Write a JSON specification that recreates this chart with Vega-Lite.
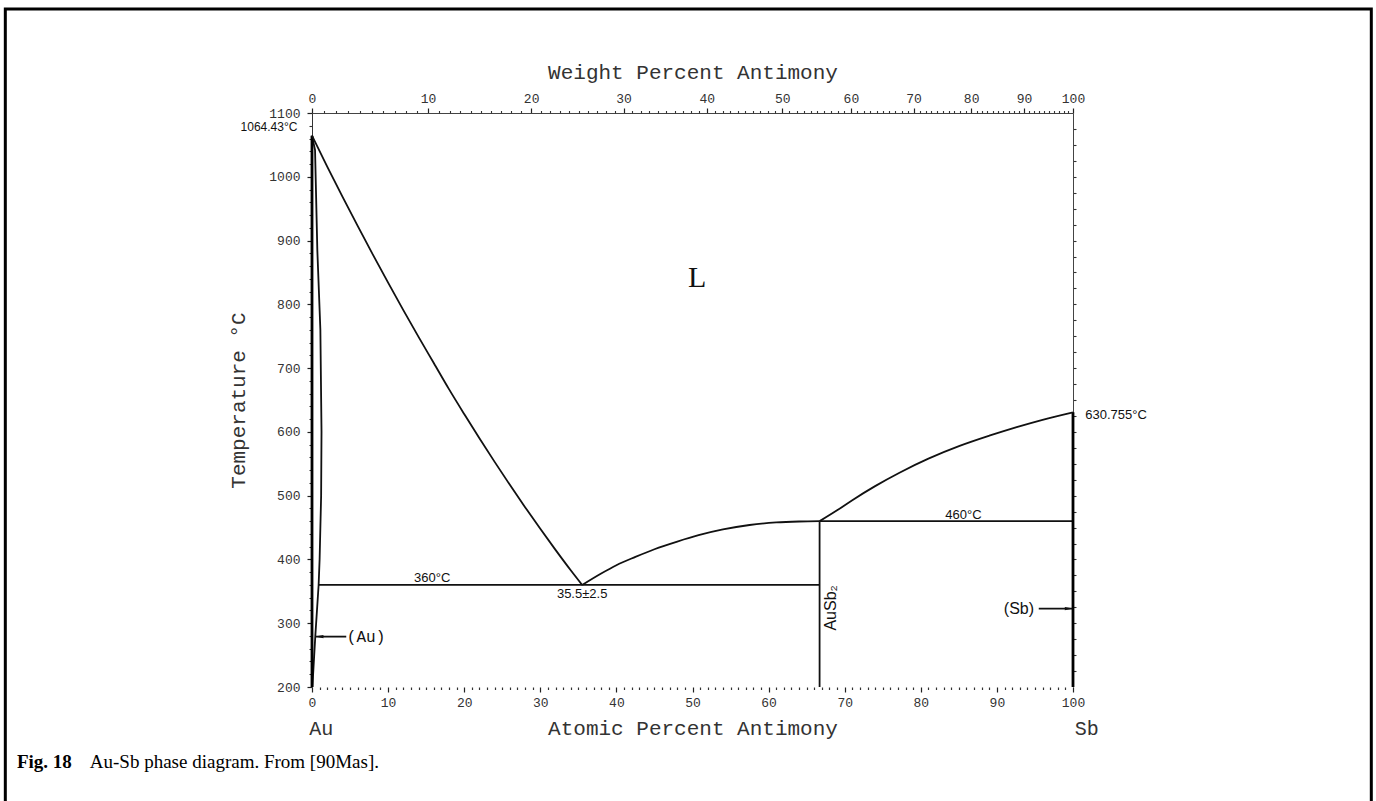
{
  "$schema": "https://vega.github.io/schema/vega-lite/v6.json",
  "width": 761,
  "height": 574,
  "autosize": {"type": "none"},
  "padding": {"left": 312, "top": 113, "right": 303, "bottom": 114},
  "background": "white",
  "config": {"view": {"stroke": null}, "axis": {"grid": false, "labelFlush": false, "labelOverlap": false, "labelBound": false}},
  "datasets": {
    "curves": [
      {"s": "liqAu", "i": 0, "x": 0, "t": 1064.43},
      {"s": "liqAu", "i": 1, "x": 2, "t": 1016},
      {"s": "liqAu", "i": 2, "x": 4, "t": 969},
      {"s": "liqAu", "i": 3, "x": 6, "t": 923},
      {"s": "liqAu", "i": 4, "x": 8, "t": 878},
      {"s": "liqAu", "i": 5, "x": 10, "t": 834},
      {"s": "liqAu", "i": 6, "x": 12, "t": 791},
      {"s": "liqAu", "i": 7, "x": 14, "t": 749},
      {"s": "liqAu", "i": 8, "x": 16, "t": 708},
      {"s": "liqAu", "i": 9, "x": 18, "t": 667},
      {"s": "liqAu", "i": 10, "x": 20, "t": 628},
      {"s": "liqAu", "i": 11, "x": 22, "t": 590},
      {"s": "liqAu", "i": 12, "x": 24, "t": 553},
      {"s": "liqAu", "i": 13, "x": 26, "t": 517},
      {"s": "liqAu", "i": 14, "x": 28, "t": 482},
      {"s": "liqAu", "i": 15, "x": 30, "t": 448},
      {"s": "liqAu", "i": 16, "x": 32, "t": 415},
      {"s": "liqAu", "i": 17, "x": 34, "t": 383},
      {"s": "liqAu", "i": 18, "x": 35.5, "t": 360},
      {"s": "liqMid", "i": 19, "x": 35.5, "t": 360},
      {"s": "liqMid", "i": 20, "x": 38, "t": 378},
      {"s": "liqMid", "i": 21, "x": 40, "t": 391},
      {"s": "liqMid", "i": 22, "x": 42.5, "t": 404},
      {"s": "liqMid", "i": 23, "x": 45, "t": 416},
      {"s": "liqMid", "i": 24, "x": 48, "t": 428},
      {"s": "liqMid", "i": 25, "x": 50.8, "t": 438},
      {"s": "liqMid", "i": 26, "x": 54, "t": 447},
      {"s": "liqMid", "i": 27, "x": 57.5, "t": 454},
      {"s": "liqMid", "i": 28, "x": 61, "t": 458},
      {"s": "liqMid", "i": 29, "x": 64, "t": 459.5},
      {"s": "liqMid", "i": 30, "x": 66.7, "t": 460},
      {"s": "liqSb", "i": 31, "x": 66.7, "t": 460},
      {"s": "liqSb", "i": 32, "x": 69, "t": 477},
      {"s": "liqSb", "i": 33, "x": 71, "t": 493},
      {"s": "liqSb", "i": 34, "x": 74, "t": 515},
      {"s": "liqSb", "i": 35, "x": 77.2, "t": 536},
      {"s": "liqSb", "i": 36, "x": 81, "t": 558},
      {"s": "liqSb", "i": 37, "x": 85.1, "t": 578},
      {"s": "liqSb", "i": 38, "x": 89, "t": 594},
      {"s": "liqSb", "i": 39, "x": 92.6, "t": 607.5},
      {"s": "liqSb", "i": 40, "x": 96, "t": 619},
      {"s": "liqSb", "i": 41, "x": 100, "t": 630.755},
      {"s": "solAu", "i": 42, "x": 0, "t": 1064.43},
      {"s": "solAu", "i": 43, "x": 0.4, "t": 1042},
      {"s": "solAu", "i": 44, "x": 0.7, "t": 885},
      {"s": "solAu", "i": 45, "x": 1.1, "t": 760},
      {"s": "solAu", "i": 46, "x": 1.25, "t": 600},
      {"s": "solAu", "i": 47, "x": 1.2, "t": 500},
      {"s": "solAu", "i": 48, "x": 1.0, "t": 400},
      {"s": "solAu", "i": 49, "x": 0.87, "t": 360},
      {"s": "solvAu", "i": 50, "x": 0.87, "t": 360},
      {"s": "solvAu", "i": 51, "x": 0.43, "t": 279},
      {"s": "solvAu", "i": 52, "x": 0.05, "t": 200},
      {"s": "eut", "i": 53, "x": 0.87, "t": 360},
      {"s": "eut", "i": 54, "x": 66.7, "t": 360},
      {"s": "AuSb2", "i": 55, "x": 66.7, "t": 200},
      {"s": "AuSb2", "i": 56, "x": 66.7, "t": 460},
      {"s": "per", "i": 57, "x": 66.7, "t": 460},
      {"s": "per", "i": 58, "x": 100, "t": 460},
      {"s": "pureAu", "i": 59, "x": 0, "t": 200},
      {"s": "pureAu", "i": 60, "x": 0, "t": 1064.43},
      {"s": "pureSb", "i": 61, "x": 100, "t": 200},
      {"s": "pureSb", "i": 62, "x": 100, "t": 630.755},
      {"s": "arrAu", "i": 63, "x": 0.5, "t": 279},
      {"s": "arrAu", "i": 64, "x": 4.5, "t": 279},
      {"s": "arrSb", "i": 65, "x": 95.5, "t": 323},
      {"s": "arrSb", "i": 66, "x": 100, "t": 323}
    ],
    "notes": [
      {"k": "s12", "label": "1064.43°C", "x": -5.65, "t": 1078},
      {"k": "s13", "label": "630.755°C", "x": 105.65, "t": 627},
      {"k": "s13", "label": "460°C", "x": 85.6, "t": 469},
      {"k": "s13", "label": "360°C", "x": 15.8, "t": 371},
      {"k": "s13", "label": "35.5±2.5", "x": 35.5, "t": 346},
      {"k": "s16", "label": "(Sb)", "x": 92.9, "t": 323},
      {"k": "m16", "label": "(Au)", "x": 7.1, "t": 279},
      {"k": "rot", "label": "AuSb₂", "x": 68.2, "t": 324},
      {"k": "big", "label": "L", "x": 50.6, "t": 841},
      {"k": "m20", "label": "Au", "x": 1.2, "t": 134},
      {"k": "m20", "label": "Sb", "x": 101.8, "t": 134},
      {"k": "capb", "label": "Fig. 18", "x": -38.77, "t": 82.4},
      {"k": "cap", "label": "Au-Sb phase diagram. From [90Mas].", "x": -29.2, "t": 82.4}
    ],
    "heads": [
      {"side": "Au", "x": 0.95, "t": 279},
      {"side": "Sb", "x": 99.47, "t": 323}
    ]
  },
  "resolve": {"axis": {"x": "independent", "y": "independent"}},
  "layer": [
    {
      "data": {"name": "curves"},
      "transform": [{"filter": "indexof(['solAu', 'solvAu', 'eut', 'AuSb2', 'per', 'arrAu', 'arrSb'], datum.s) >= 0"}],
      "mark": {"type": "line", "color": "#111", "strokeWidth": 1.8, "strokeJoin": "round"},
      "encoding": {
        "x": {"field": "x", "type": "quantitative", "scale": {"domain": [0, 100], "nice": false, "zero": false},
          "axis": {"orient": "bottom", "values": [0, 10, 20, 30, 40, 50, 60, 70, 80, 90, 100], "format": "d",
            "tickSize": 5, "tickWidth": 1.2, "tickColor": "#222", "domain": false,
            "labelFont": "Liberation Mono", "labelFontSize": 13, "labelColor": "#333", "labelPadding": 4,
            "title": "Atomic Percent Antimony", "titleFont": "Liberation Mono", "titleFontSize": 21,
            "titleFontWeight": "normal", "titleColor": "#333", "titlePadding": 8}},
        "y": {"field": "t", "type": "quantitative", "scale": {"domain": [200, 1100], "nice": false, "zero": false},
          "axis": {"orient": "left", "values": [200, 300, 400, 500, 600, 700, 800, 900, 1000, 1100], "format": "d",
            "tickSize": 5, "tickWidth": 1.2, "tickColor": "#222", "domain": true, "domainColor": "#333", "domainWidth": 1,
            "labelFont": "Liberation Mono", "labelFontSize": 13, "labelColor": "#333", "labelPadding": 7,
            "title": "Temperature °C", "titleFont": "Liberation Mono", "titleFontSize": 21,
            "titleFontWeight": "normal", "titleColor": "#333", "titlePadding": 20}},
        "detail": {"field": "s"},
        "order": {"field": "i"}
      }
    },
    {
      "data": {"name": "curves"},
      "transform": [{"filter": "datum.s === 'pureAu' || datum.s === 'pureSb'"}],
      "mark": {"type": "line", "color": "#000", "strokeWidth": 2.8},
      "encoding": {
        "x": {"field": "x", "type": "quantitative", "scale": {"domain": [0, 100], "nice": false, "zero": false},
          "axis": {"orient": "bottom", "values": [1,2,3,4,5,6,7,8,9,11,12,13,14,15,16,17,18,19,21,22,23,24,25,26,27,28,29,31,32,33,34,35,36,37,38,39,41,42,43,44,45,46,47,48,49,51,52,53,54,55,56,57,58,59,61,62,63,64,65,66,67,68,69,71,72,73,74,75,76,77,78,79,81,82,83,84,85,86,87,88,89,91,92,93,94,95,96,97,98,99],
            "tickSize": 2.5, "tickWidth": 1.2, "tickColor": "#333", "labels": false, "domain": false, "title": null}},
        "y": {"field": "t", "type": "quantitative", "scale": {"domain": [200, 1100], "nice": false, "zero": false},
          "axis": {"orient": "left", "values": [220,240,260,280,320,340,360,380,420,440,460,480,520,540,560,580,620,640,660,680,720,740,760,780,820,840,860,880,920,940,960,980,1020,1040,1060,1080],
            "tickSize": 3, "tickWidth": 1.1, "tickColor": "#333", "labels": false, "domain": false, "title": null}},
        "detail": {"field": "s"},
        "order": {"field": "i"}
      }
    },
    {
      "data": {"name": "curves"},
      "transform": [{"filter": "datum.s === 'liqAu' || datum.s === 'liqMid' || datum.s === 'liqSb'"}],
      "mark": {"type": "line", "color": "#111", "strokeWidth": 1.8, "interpolate": "monotone"},
      "encoding": {
        "x": {"field": "x", "type": "quantitative", "scale": {"domain": [0, 100], "nice": false, "zero": false}, "axis": null},
        "y": {"field": "t", "type": "quantitative", "scale": {"domain": [200, 1100], "nice": false, "zero": false}, "axis": null},
        "detail": {"field": "s"},
        "order": {"field": "i"}
      }
    },
    {
      "data": {"name": "notes"},
      "transform": [{"filter": "datum.k === 's13'"}],
      "mark": {"type": "text", "font": "Liberation Sans", "fontSize": 13, "color": "#111", "align": "center", "baseline": "middle"},
      "encoding": {
        "x": {"field": "x", "type": "quantitative", "scale": {"domain": [0, 100], "nice": false, "zero": false},
          "axis": {"orient": "top", "values": [0, 15.236, 28.796, 40.944, 51.888, 61.798, 70.816, 79.056, 86.614, 93.573, 100],
            "labelExpr": "'' + indexof([0, 15.236, 28.796, 40.944, 51.888, 61.798, 70.816, 79.056, 86.614, 93.573, 100], datum.value) * 10",
            "tickSize": 5, "tickWidth": 1.2, "tickColor": "#222", "domain": true, "domainColor": "#444", "domainWidth": 1,
            "labelFont": "Liberation Mono", "labelFontSize": 13, "labelColor": "#333", "labelPadding": 3,
            "title": "Weight Percent Antimony", "titleFont": "Liberation Mono", "titleFontSize": 21,
            "titleFontWeight": "normal", "titleColor": "#333", "titlePadding": 10}},
        "y": {"field": "t", "type": "quantitative", "scale": {"domain": [200, 1100], "nice": false, "zero": false},
          "axis": {"orient": "right", "values": [225,250,275,300,325,350,375,400,425,450,475,500,525,550,575,600,625,650,675,700,725,750,775,800,825,850,875,900,925,950,975,1000,1025,1050,1075],
            "tickSize": 3, "tickWidth": 1.1, "tickColor": "#333", "labels": false, "domain": true, "domainColor": "#444", "domainWidth": 1, "title": null}},
        "text": {"field": "label"}
      }
    },
    {
      "data": {"name": "notes"},
      "transform": [{"filter": "datum.k === 's16'"}],
      "mark": {"type": "text", "font": "Liberation Sans", "fontSize": 16, "color": "#111", "align": "center", "baseline": "middle"},
      "encoding": {
        "x": {"field": "x", "type": "quantitative", "scale": {"domain": [0, 100], "nice": false, "zero": false},
          "axis": {"orient": "top", "values": [1.608,3.196,4.765,6.315,7.846,9.359,10.855,12.332,13.793,16.663,18.073,19.467,20.845,22.208,23.555,24.887,26.205,27.508,30.071,31.331,32.579,33.812,35.032,36.240,37.434,38.616,39.786,42.089,43.223,44.345,45.455,46.555,47.643,48.720,49.786,50.842,52.922,53.947,54.962,55.967,56.963,57.949,58.925,59.892,60.850,62.738,63.669,64.592,65.506,66.411,67.308,68.197,69.078,69.951,71.673,72.523,73.365,74.200,75.027,75.847,76.660,77.465,78.264,79.841,80.619,81.391,82.156,82.915,83.667,84.413,85.153,85.887,87.336,88.052,88.762,89.466,90.164,90.857,91.544,92.226,92.902,94.238,94.899,95.554,96.204,96.849,97.489,98.124,98.754,99.380],
            "tickSize": 2.5, "tickWidth": 1.1, "tickColor": "#333", "labels": false, "domain": false, "title": null}},
        "y": {"field": "t", "type": "quantitative", "scale": {"domain": [200, 1100], "nice": false, "zero": false}, "axis": null},
        "text": {"field": "label"}
      }
    },
    {
      "data": {"name": "notes"},
      "transform": [{"filter": "datum.k === 's12'"}],
      "mark": {"type": "text", "font": "Liberation Sans", "fontSize": 12, "color": "#111", "align": "center", "baseline": "middle"},
      "encoding": {
        "x": {"field": "x", "type": "quantitative", "scale": {"domain": [0, 100], "nice": false, "zero": false}, "axis": null},
        "y": {"field": "t", "type": "quantitative", "scale": {"domain": [200, 1100], "nice": false, "zero": false}, "axis": null},
        "text": {"field": "label"}
      }
    },
    {
      "data": {"name": "notes"},
      "transform": [{"filter": "datum.k === 'm16'"}],
      "mark": {"type": "text", "font": "Liberation Mono", "fontSize": 16, "color": "#111", "align": "center", "baseline": "middle"},
      "encoding": {
        "x": {"field": "x", "type": "quantitative", "scale": {"domain": [0, 100], "nice": false, "zero": false}, "axis": null},
        "y": {"field": "t", "type": "quantitative", "scale": {"domain": [200, 1100], "nice": false, "zero": false}, "axis": null},
        "text": {"field": "label"}
      }
    },
    {
      "data": {"name": "notes"},
      "transform": [{"filter": "datum.k === 'rot'"}],
      "mark": {"type": "text", "font": "Liberation Sans, DejaVu Sans", "fontSize": 16, "color": "#111", "align": "center", "baseline": "middle", "angle": 270},
      "encoding": {
        "x": {"field": "x", "type": "quantitative", "scale": {"domain": [0, 100], "nice": false, "zero": false}, "axis": null},
        "y": {"field": "t", "type": "quantitative", "scale": {"domain": [200, 1100], "nice": false, "zero": false}, "axis": null},
        "text": {"field": "label"}
      }
    },
    {
      "data": {"name": "notes"},
      "transform": [{"filter": "datum.k === 'big'"}],
      "mark": {"type": "text", "font": "Liberation Serif", "fontSize": 30, "color": "#111", "align": "center", "baseline": "middle"},
      "encoding": {
        "x": {"field": "x", "type": "quantitative", "scale": {"domain": [0, 100], "nice": false, "zero": false}, "axis": null},
        "y": {"field": "t", "type": "quantitative", "scale": {"domain": [200, 1100], "nice": false, "zero": false}, "axis": null},
        "text": {"field": "label"}
      }
    },
    {
      "data": {"name": "notes"},
      "transform": [{"filter": "datum.k === 'm20'"}],
      "mark": {"type": "text", "font": "Liberation Mono", "fontSize": 20, "color": "#333", "align": "center", "baseline": "middle"},
      "encoding": {
        "x": {"field": "x", "type": "quantitative", "scale": {"domain": [0, 100], "nice": false, "zero": false}, "axis": null},
        "y": {"field": "t", "type": "quantitative", "scale": {"domain": [200, 1100], "nice": false, "zero": false}, "axis": null},
        "text": {"field": "label"}
      }
    },
    {
      "data": {"name": "notes"},
      "transform": [{"filter": "datum.k === 'capb'"}],
      "mark": {"type": "text", "font": "Liberation Serif", "fontSize": 19, "fontWeight": "bold", "color": "#000", "align": "left", "baseline": "middle"},
      "encoding": {
        "x": {"field": "x", "type": "quantitative", "scale": {"domain": [0, 100], "nice": false, "zero": false}, "axis": null},
        "y": {"field": "t", "type": "quantitative", "scale": {"domain": [200, 1100], "nice": false, "zero": false}, "axis": null},
        "text": {"field": "label"}
      }
    },
    {
      "data": {"name": "notes"},
      "transform": [{"filter": "datum.k === 'cap'"}],
      "mark": {"type": "text", "font": "Liberation Serif", "fontSize": 19, "color": "#000", "align": "left", "baseline": "middle"},
      "encoding": {
        "x": {"field": "x", "type": "quantitative", "scale": {"domain": [0, 100], "nice": false, "zero": false}, "axis": null},
        "y": {"field": "t", "type": "quantitative", "scale": {"domain": [200, 1100], "nice": false, "zero": false}, "axis": null},
        "text": {"field": "label"}
      }
    },
    {
      "data": {"name": "heads"},
      "transform": [{"filter": "datum.side === 'Au'"}],
      "mark": {"type": "point", "shape": "M-1,0L1,-0.4L1,0.4Z", "filled": true, "color": "#111", "size": 70, "opacity": 1},
      "encoding": {
        "x": {"field": "x", "type": "quantitative", "scale": {"domain": [0, 100], "nice": false, "zero": false}, "axis": null},
        "y": {"field": "t", "type": "quantitative", "scale": {"domain": [200, 1100], "nice": false, "zero": false}, "axis": null}
      }
    },
    {
      "data": {"name": "heads"},
      "transform": [{"filter": "datum.side === 'Sb'"}],
      "mark": {"type": "point", "shape": "M1,0L-1,-0.4L-1,0.4Z", "filled": true, "color": "#111", "size": 70, "opacity": 1},
      "encoding": {
        "x": {"field": "x", "type": "quantitative", "scale": {"domain": [0, 100], "nice": false, "zero": false}, "axis": null},
        "y": {"field": "t", "type": "quantitative", "scale": {"domain": [200, 1100], "nice": false, "zero": false}, "axis": null}
      }
    },
    {
      "data": {"values": [{}]},
      "mark": {"type": "rect", "filled": false, "stroke": "#000", "strokeWidth": 3},
      "encoding": {
        "x": {"datum": -40.3, "type": "quantitative", "scale": {"domain": [0, 100], "nice": false, "zero": false}, "axis": null},
        "x2": {"datum": 139.2},
        "y": {"datum": 1263, "type": "quantitative", "scale": {"domain": [200, 1100], "nice": false, "zero": false}, "axis": null},
        "y2": {"datum": 15}
      }
    }
  ]
}
